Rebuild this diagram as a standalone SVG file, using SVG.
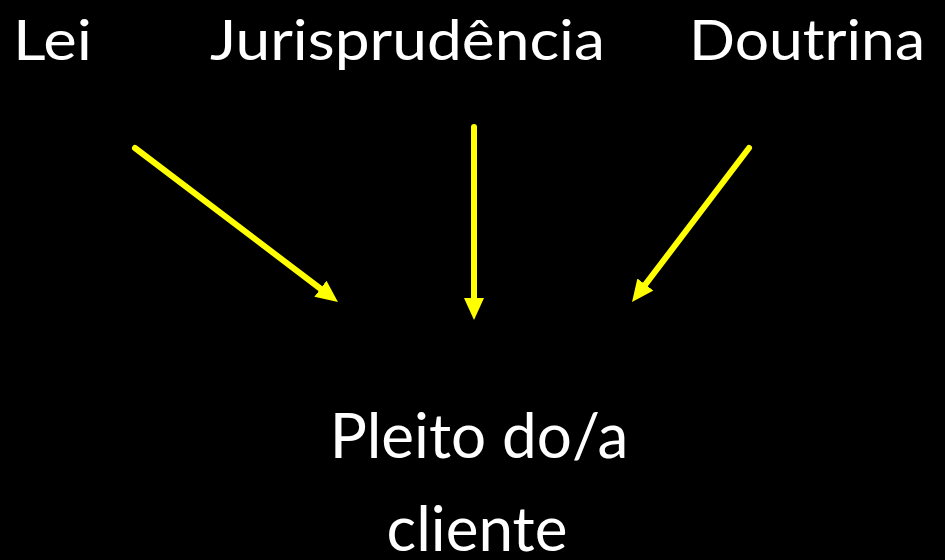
<svg xmlns="http://www.w3.org/2000/svg" width="945" height="560" viewBox="0 0 945 560">
<style>
.t{font-family:"Lato","Open Sans","Liberation Sans",sans-serif;fill:#fff}
.top{font-size:57px}
.bot{font-size:62px;text-anchor:middle}
.c{stroke:#ffff00;stroke-width:6;stroke-linecap:round;fill:none}
</style>
<defs>
<marker id="ah" markerUnits="userSpaceOnUse" markerWidth="24" markerHeight="22" refX="8" refY="10" orient="auto">
<path d="M0,0 L22,10 L0,20 z" fill="#ffff00"/>
</marker>
</defs>
<rect width="945" height="560" fill="#000"/>
<g id="lei"><text class="t top" x="13" y="60" textLength="79" lengthAdjust="spacingAndGlyphs">Lei</text></g>
<g id="jurisprudencia"><text class="t top" x="210" y="60" textLength="395" lengthAdjust="spacingAndGlyphs">Jurisprudência</text></g>
<g id="doutrina"><text class="t top" x="689" y="60" textLength="236" lengthAdjust="spacingAndGlyphs">Doutrina</text></g>
<g id="pleito"><text class="t bot" x="479" y="458">Pleito do/a</text><text class="t bot" x="477" y="551">cliente</text></g>
<g id="connectors">
<line class="c" x1="135" y1="148" x2="326.8" y2="293.5" marker-end="url(#ah)"/>
<line class="c" x1="474" y1="127" x2="474" y2="306" marker-end="url(#ah)"/>
<line class="c" x1="749" y1="148" x2="640.5" y2="290.9" marker-end="url(#ah)"/>
</g>
</svg>
